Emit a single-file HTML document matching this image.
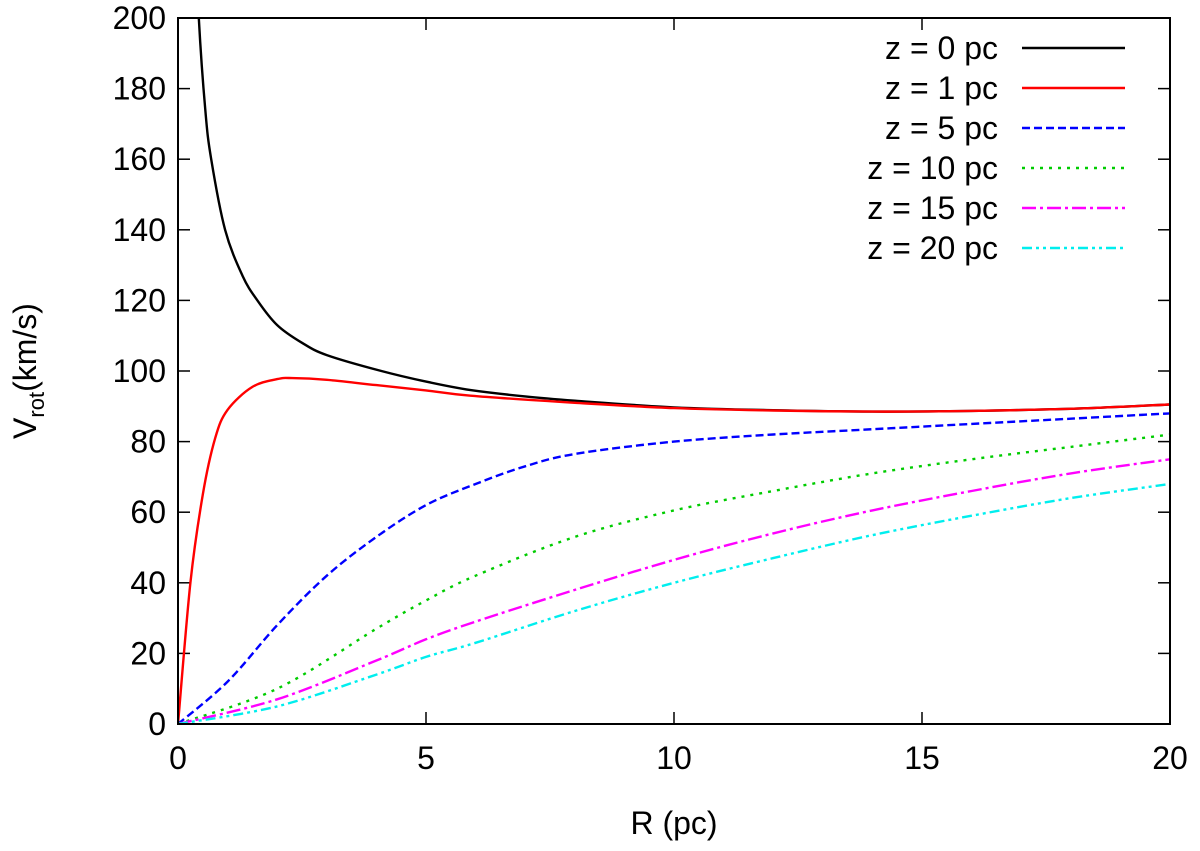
<!DOCTYPE html>
<html><head><meta charset="utf-8"><style>
body{margin:0;background:#fff}
svg text{font-family:"Liberation Sans",sans-serif;fill:#000}
</style></head><body>
<svg id="chart" width="1200" height="846" xmlns="http://www.w3.org/2000/svg">
<defs><clipPath id="clip"><rect x="178" y="18" width="992" height="706"/></clipPath></defs>
<g id="axes"></g>
<g id="series" clip-path="url(#clip)"></g>
<g id="legend"></g>
<rect x="178" y="18" width="992" height="706" fill="none" stroke="#000" stroke-width="2"/>
<text x="674" y="834" font-size="32" text-anchor="middle">R (pc)</text>
<text transform="translate(36,371) rotate(-90)" font-size="32" text-anchor="middle">V<tspan font-size="22" dy="8">rot</tspan><tspan dy="-8">(km/s)</tspan></text>
</svg>
<script>
const xTicks=[0,5,10,15,20];
const yTicks=[0,20,40,60,80,100,120,140,160,180,200];
const seriesLabels=["z = 0 pc","z = 1 pc","z = 5 pc","z = 10 pc","z = 15 pc","z = 20 pc"];
const seriesColors=["#000","#f00","#00f","#0c0","#f0f","#0ee"];
const seriesDash=["","","8,4","3,6","14,4,3,4","10,4,3,4,3,4"];
const r0=[0.3,0.42,0.55,0.67,0.95,1.3,1.6,2,2.5,3,4.1,5,5.9,7,8,10,12,14,16,18,20];
const v0=[240,200,174,160,140,127,120,113,108,104.5,100,97,94.6,92.8,91.6,89.7,88.9,88.5,88.7,89.3,90.5];
const r1=[0,0.25,0.5,0.75,1,1.5,2,2.3,3,4,5,5.9,8,10,12,14,16,18,20];
const v1=[0,40,65,81,89,95.5,97.7,98,97.5,96,94.5,93,91,89.5,88.8,88.5,88.7,89.3,90.5];
const r5=[0,1,2,3,4,5,6,7,8,10,12,14,16,18,20];
const v5=[0,12,28,42,53,62,68,73,76.5,80,82,83.5,85,86.5,88];
const rO=[0,2,4,5,6,8,10,12,14,16,18,20];
const v10=[0,10,27,35,42,53,60.5,66,71,75,78.5,82];
const v15=[0,7,18,24,29,38,46.5,54,60.5,66,71,75];
const v20=[0,5,14,19,23,32,40,47,53.5,59,64,68];
const seriesR=[r0,r1,r5,rO,rO,rO];
const seriesV=[v0,v1,v5,v10,v15,v20];
const X=r=>178+r*49.6, Y=v=>724-v*3.53;
const NS="http://www.w3.org/2000/svg";
function mk(t,a,p){const e=document.createElementNS(NS,t);for(const k in a)e.setAttribute(k,a[k]);p.appendChild(e);return e;}
function smooth(pts){
 let d='M'+pts[0][0].toFixed(1)+','+pts[0][1].toFixed(1);
 for(let i=0;i<pts.length-1;i++){
  const p0=pts[Math.max(i-1,0)],p1=pts[i],p2=pts[i+1],p3=pts[Math.min(i+2,pts.length-1)];
  const c1=[p1[0]+(p2[0]-p0[0])/6,p1[1]+(p2[1]-p0[1])/6];
  const c2=[p2[0]-(p3[0]-p1[0])/6,p2[1]-(p3[1]-p1[1])/6];
  d+='C'+c1.map(v=>v.toFixed(1)).join(',')+' '+c2.map(v=>v.toFixed(1)).join(',')+' '+p2.map(v=>v.toFixed(1)).join(',');
 }
 return d;
}
const axes=document.getElementById('axes');
xTicks.forEach(t=>{
 const l=mk('line',{x1:X(t),x2:X(t),y1:724,y2:712,stroke:'#000','stroke-width':1.5},axes);
 
 
 const l2=mk('line',{x1:X(t),x2:X(t),y1:18,y2:30,stroke:'#000','stroke-width':1.5},axes);
 
 
 const tx=mk('text',{x:X(t),y:769,'font-size':32,'text-anchor':'middle'},axes);tx.textContent=t;
 
 
});
yTicks.forEach(t=>{
 const l=mk('line',{x1:178,x2:190,y1:Y(t),y2:Y(t),stroke:'#000','stroke-width':1.5},axes);
 
 
 const l2=mk('line',{x1:1158,x2:1170,y1:Y(t),y2:Y(t),stroke:'#000','stroke-width':1.5},axes);
 
 
 const tx=mk('text',{x:166,y:Y(t)+11,'font-size':32,'text-anchor':'end'},axes);tx.textContent=t;
 
 
});
const sg=document.getElementById('series'),lg=document.getElementById('legend');
seriesV.forEach((vs,i)=>{
 const pts=vs.map((v,j)=>[X(seriesR[i][j]),Y(v)]);
 const p=mk('path',{d:smooth(pts),fill:'none',stroke:seriesColors[i],'stroke-width':2.4,'stroke-dasharray':seriesDash[i]},sg);
 
 
 const y=48+i*40;
 const t=mk('text',{x:998,y:y+11,'font-size':32,'text-anchor':'end'},lg);t.textContent=seriesLabels[i];
 
 
 const l=mk('line',{x1:1022,x2:1125,y1:y,y2:y,stroke:seriesColors[i],'stroke-width':2.4,'stroke-dasharray':seriesDash[i]},lg);
 
 
});
</script>
</body></html>
